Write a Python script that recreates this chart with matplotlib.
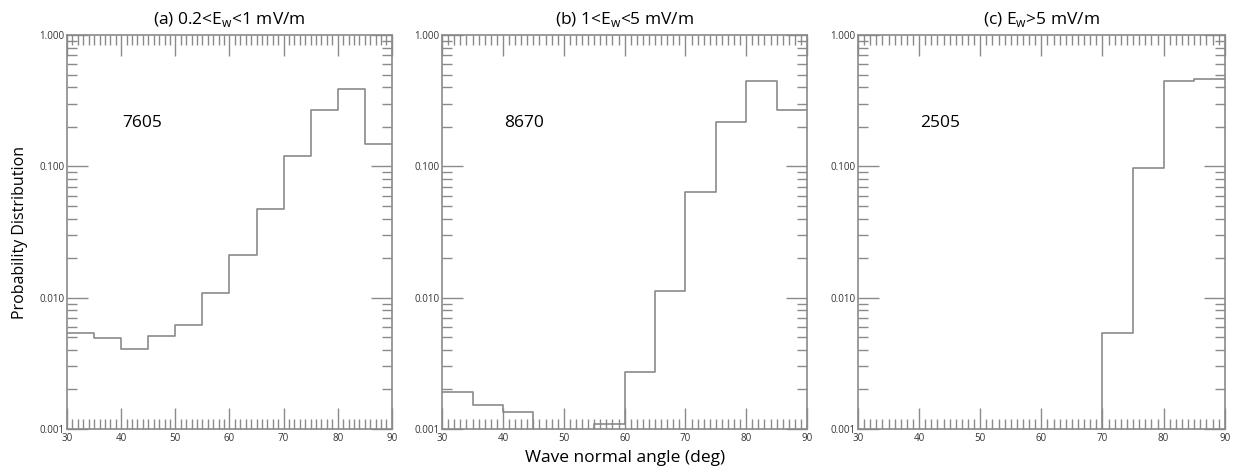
import numpy as np
import matplotlib
matplotlib.use('Agg')
import matplotlib.pyplot as plt
from matplotlib.ticker import MultipleLocator, LogLocator, FormatStrFormatter

plt.rcParams['font.family'] = ['Open Sans', 'DejaVu Sans']

# Bin edges of wave normal angle (deg)
bin_edges = [30, 35, 40, 45, 50, 55, 60, 65, 70, 75, 80, 85, 90]

# Probability per bin (0 = empty bin)
prob_a = [0.0054, 0.00495, 0.0041, 0.0051, 0.0062, 0.0109, 0.021, 0.047, 0.121, 0.267, 0.39, 0.148]
prob_b = [0.0019, 0.00152, 0.00135, 0, 0, 0.0011, 0.0027, 0.0113, 0.064, 0.217, 0.45, 0.267]
prob_c = [0, 0, 0, 0, 0, 0, 0, 0, 0.0054, 0.0966, 0.445, 0.46]

titles = ['(a) 0.2<E$_\\mathregular{w}$<1 mV/m',
          '(b) 1<E$_\\mathregular{w}$<5 mV/m',
          '(c) E$_\\mathregular{w}$>5 mV/m']
counts = ['7605', '8670', '2505']
series = [prob_a, prob_b, prob_c]

# Axes boxes in figure fractions [left, bottom, width, height]
boxes = [[0.0543, 0.095, 0.263, 0.831],
         [0.358, 0.095, 0.2955, 0.831],
         [0.6947, 0.095, 0.297, 0.831]]

line_col = '#8a8a8a'
fig = plt.figure(figsize=(12.35, 4.74), dpi=100)

for i in range(3):
    ax = fig.add_axes(boxes[i])
    vals = np.array(series[i], dtype=float)
    # step histogram: repeat last value so the final bin is drawn
    ax.step(bin_edges, np.append(vals, vals[-1]), where='post', color=line_col, lw=1.2)
    ax.set_yscale('log', nonpositive='clip')
    ax.set_xlim(30, 90)
    ax.set_ylim(0.001, 1.0)

    ax.xaxis.set_major_locator(MultipleLocator(10))
    ax.xaxis.set_minor_locator(MultipleLocator(1))
    ax.yaxis.set_major_locator(LogLocator(base=10))
    ax.yaxis.set_minor_locator(LogLocator(base=10, subs=np.arange(2, 10)))
    ax.yaxis.set_major_formatter(FormatStrFormatter('%.3f'))
    ax.yaxis.set_minor_formatter(plt.NullFormatter())

    ax.tick_params(which='both', direction='in', top=True, right=True,
                   color=line_col, labelsize=7, labelcolor='#333333')
    ax.tick_params(axis='y', pad=2)
    ax.tick_params(axis='x', pad=3)
    ax.tick_params(which='major', length=15, width=1)
    ax.tick_params(which='minor', length=7, width=1)
    for sp in ax.spines.values():
        sp.set_color(line_col)
        sp.set_linewidth(1.2)

    ax.set_title(titles[i], fontsize=12.5, pad=8)
    ax.text(0.17, 0.777, counts[i], transform=ax.transAxes, fontsize=12.5,
            va='center', ha='left')

    if i == 0:
        ax.set_ylabel('Probability Distribution', fontsize=11.5, labelpad=8)
    if i == 1:
        ax.set_xlabel('Wave normal angle (deg)', fontsize=12.5, labelpad=4)

fig.savefig('out.png', dpi=100)
